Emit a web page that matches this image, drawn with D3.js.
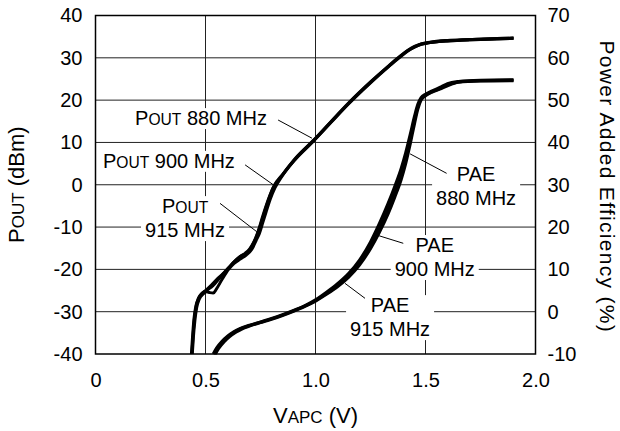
<!DOCTYPE html>
<html>
<head>
<meta charset="utf-8">
<script src="https://cdn.jsdelivr.net/npm/d3@7"></script>
<style>
  body { margin: 0; background: #fff; }
  text { font-family: "Liberation Sans", Arial, Helvetica, sans-serif; fill: #000; }
</style>
</head>
<body>
<div id="chart"></div>
<script>
"use strict";

// ticks
let xTicks = [0, 0.5, 1.0, 1.5, 2.0];
let xTickLabels = ["0", "0.5", "1.0", "1.5", "2.0"];
let poutTicks = [40, 30, 20, 10, 0, -10, -20, -30, -40];
let paeTicks = [70, 60, 50, 40, 30, 20, 10, 0, -10];

// [VAPC (V), POUT (dBm)]
let pout880 = [[0.436,-40],[0.441,-36],[0.447,-32],[0.455,-29],[0.468,-26.8],[0.485,-25.6],[0.5,-25],
  [0.525,-23.8],[0.555,-22.2],[0.58,-21],[0.605,-19.6],[0.63,-18.2],[0.656,-17],[0.68,-16.2],[0.70,-15.2],
  [0.72,-13.5],[0.735,-11.8],[0.75,-9.5],[0.765,-7],[0.785,-3.8],[0.81,-0.4],[0.85,2.4],[0.91,6.3],
  [0.987,10.3],[1.07,14.9],[1.15,19.3],[1.25,24.3],[1.33,28],[1.38,30.2],[1.42,31.8],[1.45,32.7],
  [1.48,33.3],[1.52,33.7],[1.6,34.1],[1.7,34.3],[1.8,34.5],[1.9,34.6]];
let pout900 = [[0.438,-40],[0.443,-36],[0.45,-31.5],[0.458,-28.6],[0.47,-26.7],[0.49,-25.5],[0.51,-24.8],
  [0.535,-23.8],[0.56,-22.3],[0.585,-20.8],[0.61,-19.4],[0.635,-18],[0.66,-16.9],[0.69,-16],[0.71,-14.6],
  [0.728,-12.6],[0.743,-10.4],[0.758,-7.8],[0.778,-4.6],[0.805,-1],[0.85,2.3],[0.91,6.2],[0.987,10.2],
  [1.07,14.8],[1.15,19.2],[1.25,24.2],[1.33,27.9],[1.38,30.1],[1.42,31.7],[1.45,32.6],[1.48,33.2],
  [1.52,33.6],[1.6,34],[1.7,34.3],[1.8,34.5],[1.9,34.7]];
let pout915 = [[0.44,-40],[0.445,-36],[0.452,-32],[0.46,-29],[0.472,-27],[0.49,-25.8],[0.505,-25.3],
  [0.52,-25.5],[0.535,-25.6],[0.55,-24.6],[0.575,-22.4],[0.605,-20],[0.63,-18.6],[0.66,-17.5],[0.685,-16.6],
  [0.71,-15.3],[0.73,-13.2],[0.745,-11.5],[0.76,-9],[0.775,-6.5],[0.795,-3.3],[0.815,-0.8],[0.85,2.2],
  [0.91,6.1],[0.987,10.1],[1.07,14.7],[1.15,19.1],[1.25,24.1],[1.33,27.8],[1.38,30],[1.42,31.6],
  [1.45,32.5],[1.48,33.2],[1.52,33.6],[1.6,34],[1.7,34.2],[1.8,34.4],[1.9,34.6]];

// [VAPC (V), PAE (%)]
let pae880 = [[0.535,-10],[0.55,-8.6],[0.575,-7],[0.6,-5.8],[0.63,-4.7],[0.656,-4],[0.7,-3.2],[0.75,-2.4],
  [0.8,-1.6],[0.85,-0.7],[0.9,0.3],[0.95,1.4],[1.0,2.8],[1.05,4.6],[1.1,6.6],[1.15,9],[1.2,12.2],
  [1.25,16.5],[1.29,20.8],[1.33,25.6],[1.36,29.6],[1.39,34],[1.41,37.6],[1.43,41.8],[1.45,46.2],
  [1.465,49],[1.48,50.6],[1.5,51.4],[1.53,52.2],[1.565,53],[1.6,53.9],[1.65,54.4],[1.75,54.7],[1.9,54.8]];
let pae900 = [[0.54,-10],[0.555,-8.6],[0.58,-7],[0.605,-5.8],[0.635,-4.7],[0.66,-4],[0.7,-3.3],[0.75,-2.5],
  [0.8,-1.7],[0.85,-0.8],[0.9,0.2],[0.95,1.3],[1.0,2.6],[1.05,4.3],[1.1,6.2],[1.15,8.5],[1.2,11.5],
  [1.25,15.6],[1.29,19.6],[1.33,24.2],[1.36,28.2],[1.39,32.6],[1.41,36.2],[1.43,40.6],[1.45,45.2],
  [1.465,48.4],[1.48,50.3],[1.5,51.2],[1.53,52],[1.565,52.7],[1.6,53.6],[1.65,54.3],[1.75,54.6],[1.9,54.7]];
let pae915 = [[0.545,-10],[0.56,-8.7],[0.585,-7.1],[0.61,-5.9],[0.64,-4.8],[0.665,-4.1],[0.7,-3.4],[0.75,-2.6],
  [0.8,-1.8],[0.85,-0.9],[0.9,0.1],[0.95,1.2],[1.0,2.5],[1.05,4.1],[1.1,5.9],[1.15,8.1],[1.2,11],
  [1.25,14.9],[1.29,18.7],[1.33,23.1],[1.36,27],[1.39,31.3],[1.41,35],[1.43,39.5],[1.45,44.4],
  [1.465,47.8],[1.48,50],[1.5,51],[1.53,51.9],[1.565,52.6],[1.6,53.4],[1.65,54.2],[1.75,54.5],[1.9,54.6]];

// label text, anchor (VAPC, POUT dBm) and leader line ends in the same units
let annotations = [
  { lines: [["P", "OUT", " 880 MHz"]], anchor: "start", at: [0.18, 14.1], leader: [[0.83, 15.3], [0.984, 11.0]] },
  { lines: [["P", "OUT", " 900 MHz"]], anchor: "start", at: [0.034, 4.0], leader: [[0.68, 4.7], [0.808, 0]] },
  { lines: [["P", "OUT", ""], ["915 MHz"]], anchor: "middle", at: [0.407, -6.7], leader: [[0.566, -4.4], [0.733, -11.1]] },
  { lines: [["PAE"], ["880 MHz"]], anchor: "middle", at: [1.73, 1.0], leader: [[1.596, 2.7], [1.43, 7.3]] },
  { lines: [["PAE"], ["900 MHz"]], anchor: "middle", at: [1.542, -15.9], leader: [[1.399, -13.84], [1.278, -11.88]] },
  { lines: [["PAE"], ["915 MHz"]], anchor: "middle", at: [1.339, -30.1], leader: [[1.225, -26.84], [1.134, -23.3]] }
];

let margin = { top: 15.5, left: 95.5 };
let width = 440;
let height = 338.5;
let fontSize = 20;
let lineGap = 24;

let svg = d3.select("#chart").append("svg")
  .attr("width", 620)
  .attr("height", 431);

let g = svg.append("g")
  .attr("transform", "translate(" + margin.left + "," + margin.top + ")");

let x = d3.scaleLinear().domain([0, 2]).range([0, width]);
let yL = d3.scaleLinear().domain([-40, 40]).range([height, 0]);
let yR = d3.scaleLinear().domain([-10, 70]).range([height, 0]);

// grid
g.append("g").selectAll("line")
  .data(xTicks.slice(1, -1))
  .join("line")
  .attr("x1", d => x(d)).attr("x2", d => x(d))
  .attr("y1", 0).attr("y2", height)
  .attr("stroke", "#222").attr("stroke-width", 1);

g.append("g").selectAll("line")
  .data(poutTicks.slice(1, -1))
  .join("line")
  .attr("x1", 0).attr("x2", width)
  .attr("y1", d => yL(d)).attr("y2", d => yL(d))
  .attr("stroke", "#222").attr("stroke-width", 1);

// axes
let axisFont = sel => sel.selectAll("text").attr("font-size", fontSize)
  .attr("font-family", "'Liberation Sans', Arial, sans-serif");

g.append("g")
  .call(d3.axisLeft(yL).tickValues(poutTicks).tickFormat(d => String(d)).tickSize(0).tickPadding(13))
  .call(axisFont)
  .call(s => s.select(".domain").remove());

g.append("g")
  .attr("transform", "translate(" + width + ",0)")
  .call(d3.axisRight(yR).tickValues(paeTicks).tickFormat(d => String(d)).tickSize(0).tickPadding(12))
  .call(axisFont)
  .call(s => s.select(".domain").remove());

g.append("g")
  .attr("transform", "translate(0," + height + ")")
  .call(d3.axisBottom(x).tickValues(xTicks).tickFormat((d, i) => xTickLabels[i]).tickSize(0).tickPadding(19))
  .call(axisFont)
  .call(s => s.select(".domain").remove());

// annotation boxes and text
let annoLayer = g.append("g");
annotations.forEach(a => {
  let grp = annoLayer.append("g");
  let rect = grp.append("rect").attr("fill", "#fff");
  a.lines.forEach((parts, i) => {
    let t = grp.append("text")
      .attr("x", x(a.at[0]))
      .attr("y", yL(a.at[1]) + i * lineGap)
      .attr("text-anchor", a.anchor)
      .attr("font-size", fontSize);
    parts.forEach((p, j) => {
      if (!p) return;
      t.append("tspan").text(p).attr("font-size", j === 1 ? fontSize * 0.78 : fontSize);
    });
  });
  let bb = grp.node().getBBox();
  rect.attr("x", bb.x - 4).attr("y", bb.y + 1).attr("width", bb.width + 8).attr("height", bb.height - 1);
  grp.append("line")
    .attr("x1", x(a.leader[0][0])).attr("y1", yL(a.leader[0][1]))
    .attr("x2", x(a.leader[1][0])).attr("y2", yL(a.leader[1][1]))
    .attr("stroke", "#000").attr("stroke-width", 1);
});

// curves
let poutLine = d3.line().x(d => x(d[0])).y(d => yL(d[1])).curve(d3.curveMonotoneX);
let paeLine = d3.line().x(d => x(d[0])).y(d => yR(d[1])).curve(d3.curveMonotoneX);

[pout880, pout900, pout915].forEach(s => {
  g.append("path").datum(s).attr("d", poutLine)
    .attr("fill", "none").attr("stroke", "#000").attr("stroke-width", 3)
    .attr("stroke-linejoin", "round");
});
[pae880, pae900, pae915].forEach(s => {
  g.append("path").datum(s).attr("d", paeLine)
    .attr("fill", "none").attr("stroke", "#000").attr("stroke-width", 3)
    .attr("stroke-linejoin", "round");
});

// frame
g.append("rect")
  .attr("width", width).attr("height", height)
  .attr("fill", "none").attr("stroke", "#000").attr("stroke-width", 1.5);

// axis titles
let leftTitle = svg.append("text")
  .attr("transform", "translate(24," + (margin.top + height / 2) + ") rotate(-90)")
  .attr("text-anchor", "middle")
  .attr("font-size", 22);
leftTitle.append("tspan").text("P");
leftTitle.append("tspan").text("OUT").attr("font-size", 17);
leftTitle.append("tspan").text(" (dBm)");

svg.append("text")
  .attr("transform", "translate(600," + (margin.top + height / 2 + 2) + ") rotate(90)")
  .attr("text-anchor", "middle")
  .attr("font-size", 21)
  .attr("letter-spacing", 1.3)
  .text("Power Added Efficiency (%)");

let bottomTitle = svg.append("text")
  .attr("x", margin.left + x(1))
  .attr("y", 423)
  .attr("text-anchor", "middle")
  .attr("font-size", 22);
bottomTitle.append("tspan").text("V");
bottomTitle.append("tspan").text("APC").attr("font-size", 17);
bottomTitle.append("tspan").text(" (V)");
</script>
</body>
</html>
